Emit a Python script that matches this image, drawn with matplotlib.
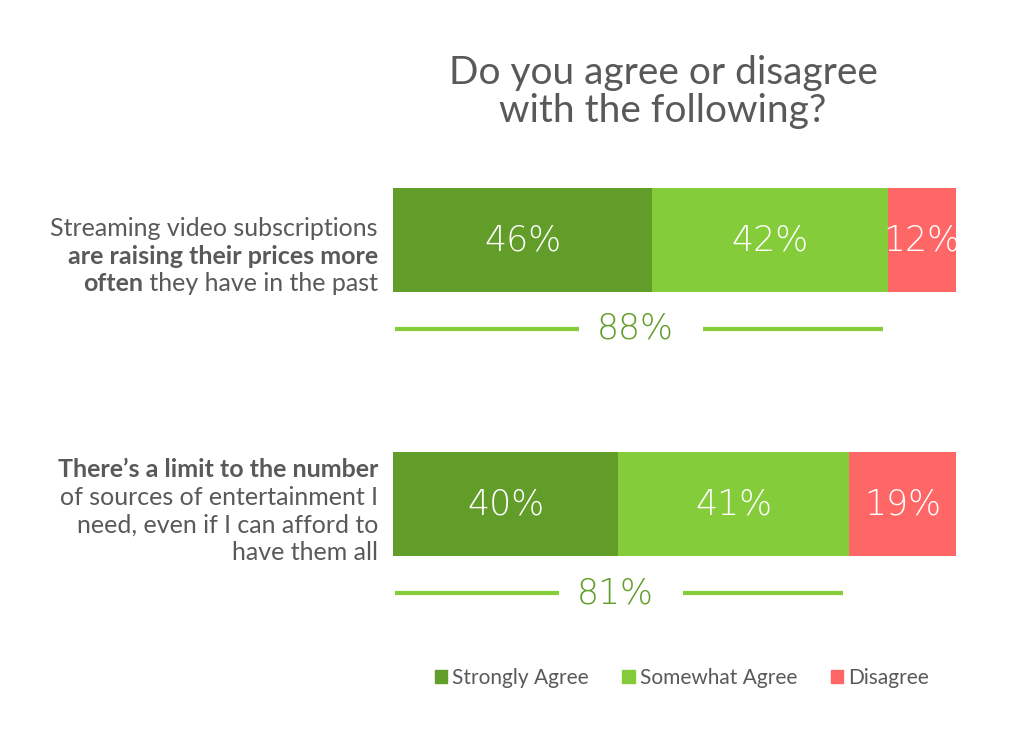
import matplotlib
matplotlib.use("Agg")
import matplotlib.pyplot as plt
from matplotlib.patches import Patch

plt.rcParams['font.family'] = ['Lato', 'DejaVu Sans']

# data
questions = [
    [[("Streaming video subscriptions", "normal")],
     [("are raising their prices more", "bold")],
     [("often", "bold"), (" they have in the past", "normal")]],
    [[("There\u2019s a limit to the number", "bold")],
     [("of sources of entertainment I", "normal")],
     [("need, even if I can afford to", "normal")],
     [("have them all", "normal")]],
]
strongly = [46, 40]
somewhat = [42, 41]
disagree = [12, 19]
series_names = ["Strongly Agree", "Somewhat Agree", "Disagree"]

dark_green = "#629D29"
light_green = "#84CC39"
red = "#FF6666"
grey = "#595959"
num_font = dict(family=["DejaVu Sans"], fontweight=200, fontsize=25)

fig = plt.figure(figsize=(10.24, 7.38), dpi=100)
ax = fig.add_axes([393 / 1024, 98 / 738, 563 / 1024, 490 / 738])
ax.set_xlim(0, 100)
ax.set_ylim(1.515, -0.341)
ax.axis("off")

ypos = [0, 1]
h = 0.394
left = [0, 0]
for vals, col in zip([strongly, somewhat, disagree], [dark_green, light_green, red]):
    ax.barh(ypos, vals, left=left, height=h, color=col)
    for y, v, l in zip(ypos, vals, left):
        ax.text(l + v / 2, y, f"{v}%", color="white", ha="center", va="center", **num_font)
    left = [a + b for a, b in zip(left, vals)]

# total agree with line
for y, s, m in zip(ypos, strongly, somewhat):
    tot = s + m
    c = tot / 2
    yl = y + 0.337
    ax.plot([0.3, c - 11], [yl, yl], color=light_green, lw=3, solid_capstyle="butt")
    ax.plot([c + 11, tot - 1], [yl, yl], color=light_green, lw=3, solid_capstyle="butt")
    ax.text(c - 1, yl, f"{tot}%", color=dark_green, ha="center", va="center", **num_font)

# question labels, right aligned, mixed bold
fig.canvas.draw()
renderer = fig.canvas.get_renderer()
label_x = 378
line_gap = 27.5
centres = [256, 511]
for yc, lines in zip(centres, questions):
    n = len(lines)
    for i, segs in enumerate(lines):
        ypix = yc + (i - (n - 1) / 2) * line_gap
        x = label_x
        for txt, w in reversed(segs):
            t = fig.text(x / 1024, 1 - ypix / 738, txt, fontsize=18, color=grey,
                         fontweight=w, ha="right", va="center")
            bb = t.get_window_extent(renderer)
            x -= bb.width

fig.text(663 / 1024, 1 - 92 / 738, "Do you agree or disagree\nwith the following?",
         fontsize=28, color=grey, ha="center", va="center", linespacing=1.05)

handles = [Patch(color=c) for c in [dark_green, light_green, red]]
fig.legend(handles, series_names, loc="center", bbox_to_anchor=(682 / 1024, 1 - 678 / 738),
           ncol=3, frameon=False, fontsize=15, handlelength=0.6, handleheight=0.6,
           handletextpad=0.25, columnspacing=1.6, labelcolor=grey)

fig.savefig("out.png", dpi=100)
